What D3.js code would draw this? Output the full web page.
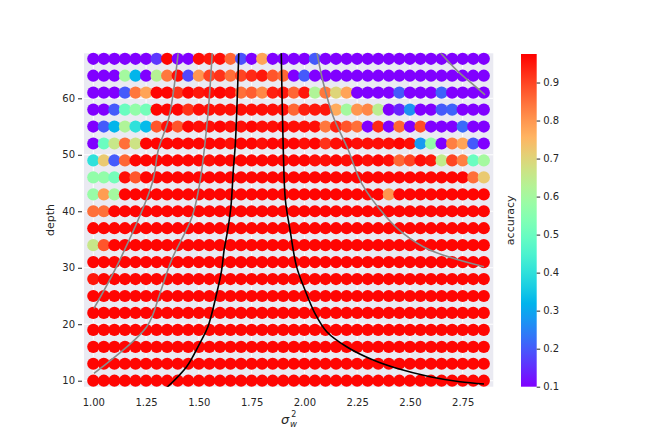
<!DOCTYPE html>
<html><head><meta charset="utf-8">
<script src="https://cdn.jsdelivr.net/npm/d3@7"></script>
<style>body{margin:0;background:#fff;} svg{display:block;font-family:"DejaVu Sans",sans-serif;}</style>
</head><body><svg id="c" width="664" height="443"></svg>
<script>
// ---------- data ----------
const sigmaW2 = [1.00,1.05,1.10,1.15,1.20,1.25,1.30,1.35,1.40,1.45,1.50,1.55,1.60,1.65,1.70,1.75,1.80,1.85,1.90,1.95,
                 2.00,2.05,2.10,2.15,2.20,2.25,2.30,2.35,2.40,2.45,2.50,2.55,2.60,2.65,2.70,2.75,2.80,2.85];
const depths = [67,64,61,58,55,52,49,46,43,40,37,34,31,28,25,22,19,16,13,10];
const r = 0.97;
// accuracy rows, top (depth 67) to bottom (depth 10); 38 values each
const accuracy = [
 [0.10,0.10,0.10,0.10,0.10,0.10,0.16,0.97,0.10,0.10, 0.96,0.95,0.96,0.86,0.19,0.10,0.78,0.10,0.10,0.10, 0.10,0.20,0.10,0.10,0.10,0.10,0.10,0.10,0.10,0.10, 0.10,0.10,0.10,0.10,0.10,0.10,0.10,0.10],
 [0.10,0.10,0.10,0.60,0.32,0.10,0.63,0.84,0.96,0.18, 0.80,0.90,0.92,0.85,0.90,0.93,0.95,0.88,0.86,0.10, 0.20,0.10,0.10,0.10,0.10,0.10,0.10,0.10,0.10,0.10, 0.10,0.10,0.10,0.10,0.10,0.10,0.10,0.10],
 [0.10,0.10,0.10,0.20,0.84,0.78,0.97,0.97,0.92,0.97, 0.95,0.96,0.97,0.96,0.85,0.87,0.82,0.94,0.95,0.86, 0.95,0.62,0.84,0.70,0.78,0.10,0.10,0.10,0.10,0.20, 0.10,0.10,0.10,0.21,0.10,0.10,0.10,0.10],
 [0.10,0.10,0.20,0.50,0.57,0.52,0.97,0.97,0.97,0.92, 0.96,0.96,0.96,0.96,0.96,0.96,0.96,0.96,0.96,0.86, 0.94,0.95,0.95,0.77,0.60,0.80,0.82,0.64,0.10,0.14, 0.27,0.10,0.10,0.20,0.21,0.10,0.10,0.10],
 [0.10,0.20,0.32,0.62,0.40,0.33,0.88,0.96,0.88,0.97, 0.96,0.96,0.97,0.96,0.96,0.97,0.96,0.96,0.97,0.96, 0.96,0.96,0.84,0.94,0.88,0.85,0.10,0.93,0.10,0.86, 0.10,0.89,0.10,0.10,0.10,0.22,0.10,0.10],
 [0.10,0.50,0.66,0.85,0.67,0.97,0.97,0.97,0.97,0.97, 0.97,0.97,0.97,0.96,0.97,0.97,0.96,0.97,0.97,0.97, 0.96,0.97,0.92,0.96,0.97,0.96,0.96,0.96,0.96,0.97, 0.96,0.28,0.57,0.10,0.83,0.78,0.20,0.10],
 [0.40,0.72,0.20,0.86,0.97,0.97,0.97,0.97,0.97,0.97, 0.97,0.96,0.97,0.97,0.97,0.97,0.97,0.97,0.97,0.97, 0.97,0.96,0.96,0.97,0.96,0.97,0.96,0.97,0.96,0.86, 0.90,0.96,0.95,0.65,0.90,0.83,0.50,0.60],
 [0.57,0.57,0.52,0.96,0.88,r,r,r,r,r, r,r,r,r,r,r,r,r,r,r, r,r,r,r,r,r,r,r,r,r, r,r,r,r,r,r,0.85,0.72],
 [0.58,0.79,0.60,r,r,r,r,r,r,r, r,r,r,r,r,r,r,r,r,r, r,r,r,r,r,r,r,r,0.80,r, r,r,r,r,r,r,r,r],
 [0.85,0.85,r,r,r,r,r,r,r,r, r,r,r,r,r,r,r,r,r,r, r,r,r,r,r,r,r,r,r,r, r,r,r,r,r,r,r,r],
 [r,r,r,r,r,r,r,r,r,r, r,r,r,r,r,r,r,r,r,r, r,r,r,r,r,r,r,r,r,r, r,r,r,r,r,r,r,r],
 [0.66,0.88,r,r,r,r,r,r,r,r, r,r,r,r,r,r,r,r,r,r, r,r,r,r,r,r,r,r,r,r, r,r,r,r,r,r,r,r],
 [r,r,r,r,r,r,r,r,r,r, r,r,r,r,r,r,r,r,r,r, r,r,r,r,r,r,r,r,r,r, r,r,r,r,r,r,r,r],
 [0.95,r,r,r,r,r,r,r,r,r, r,r,r,r,r,r,r,r,r,r, r,r,r,r,r,r,r,r,r,r, r,r,r,r,r,r,r,r],
 [r,r,r,r,r,r,r,r,r,r, r,r,r,r,r,r,r,r,r,r, r,r,r,r,r,r,r,r,r,r, r,r,r,r,r,r,r,r],
 [r,r,r,r,r,r,r,r,r,r, r,r,r,r,r,r,r,r,r,r, r,r,r,r,r,r,r,r,r,r, r,r,r,r,r,r,r,r],
 [r,r,r,r,r,r,r,r,r,r, r,r,r,r,r,r,r,r,r,r, r,r,r,r,r,r,r,r,r,r, r,r,r,r,r,r,r,r],
 [r,r,r,r,r,r,r,r,r,r, r,r,r,r,r,r,r,r,r,r, r,r,r,r,r,r,r,r,r,r, r,r,r,r,r,r,r,r],
 [r,r,r,r,r,r,r,r,r,r, r,r,r,r,r,r,r,r,r,r, r,r,r,r,r,r,r,r,r,r, r,r,r,r,r,r,r,r],
 [r,r,r,r,r,r,r,r,r,r, r,r,r,r,r,r,r,r,r,r, r,r,r,r,r,r,r,r,r,r, r,r,r,r,r,r,r,r]
];
// theory curves [sigma_w^2, depth]
const blackLeft  = [[1.340,8.5],[1.442,12.48],[1.505,16.67],[1.543,19.56],[1.585,25.53],[1.608,29.6],[1.620,33.2],[1.637,36.7],[1.652,40.8],[1.664,47.7],[1.673,52.0],[1.690,69]];
const blackRight = [[1.890,69],[1.900,50.85],[1.910,42.0],[1.932,36.7],[1.963,30.2],[2.003,26.06],[2.050,21.93],[2.106,18.68],[2.200,16.02],[2.326,13.66],[2.437,12.2],[2.595,10.71],[2.737,9.82],[2.851,9.42]];
const grayLeftOuter = [[1.003,22.8],[1.126,31.4],[1.279,44.95],[1.308,50.85],[1.359,56.7],[1.405,69]];
const grayLeftInner = [[1.003,11.3],[1.253,19.56],[1.316,25.5],[1.371,31.4],[1.468,39.04],[1.504,44.95],[1.542,56.74],[1.565,69]];
const grayRightMid  = [[2.055,69],[2.090,62.66],[2.137,56.74],[2.208,50.85],[2.271,44.95],[2.387,39.04],[2.468,36.1],[2.595,33.14],[2.851,30.18]];
const grayRightTop  = [[2.622,69],[2.721,65.0],[2.793,62.65],[2.856,60.6]];
const xTicks = [1.00,1.25,1.50,1.75,2.00,2.25,2.50,2.75];
const yTicks = [10,20,30,40,50,60];
const cTicks = [0.1,0.2,0.3,0.4,0.5,0.6,0.7,0.8,0.9];
const vmin = 0.1, vmax = 0.975;

// ---------- drawing ----------
const svg = d3.select("#c");
const L = 84, R = 493.3, T = 53.3, B = 386.7;
const x = d3.scaleLinear().domain([0.956, 2.895]).range([L, R]);
const y = d3.scaleLinear().domain([8.94, 67.97]).range([B, T]);
const norm = d3.scaleLinear().domain([vmin, vmax]).range([0, 1]).clamp(true);
function rainbow(t){
  const rr = Math.min(1, Math.abs(2*t - 0.5)), g = Math.sin(Math.PI*t), b = Math.cos(Math.PI*t/2);
  return d3.rgb(Math.round(255*rr), Math.round(255*Math.max(0,g)), Math.round(255*Math.max(0,b))).toString();
}
const color = v => rainbow(norm(v));

svg.append("rect").attr("x",L).attr("y",T).attr("width",R-L).attr("height",B-T).attr("fill","#EAEAF2");
const grid = svg.append("g");
grid.selectAll("line.gx").data(xTicks).join("line").attr("x1",d=>x(d)).attr("x2",d=>x(d)).attr("y1",T).attr("y2",B)
  .attr("stroke","#fff").attr("stroke-width",1);
grid.selectAll("line.gy").data(yTicks).join("line").attr("class","gy").attr("y1",d=>y(d)).attr("y2",d=>y(d)).attr("x1",L).attr("x2",R)
  .attr("stroke","#fff").attr("stroke-width",1);

const pts = [];
depths.slice().reverse().forEach((dep) => {
  const row = accuracy[depths.indexOf(dep)];
  sigmaW2.forEach((s, j) => pts.push({s, dep, v: row[j]}));
});
svg.append("g").selectAll("circle").data(pts).join("circle")
  .attr("cx", d => x(d.s)).attr("cy", d => y(d.dep)).attr("r", 6.1)
  .attr("fill", d => color(d.v));

svg.append("clipPath").attr("id","clip").append("rect").attr("x",L).attr("y",T).attr("width",R-L).attr("height",B-T);
const line = d3.line().x(d => x(d[0])).y(d => y(d[1])).curve(d3.curveCatmullRom.alpha(0.5));
const lg = svg.append("g").attr("clip-path","url(#clip)");
[[grayLeftOuter,"#8a8a8a"],[grayLeftInner,"#8a8a8a"],[grayRightMid,"#8a8a8a"],[grayRightTop,"#8a8a8a"],[blackLeft,"#000"],[blackRight,"#000"]]
  .forEach(([d,c]) => lg.append("path").datum(d).attr("d", line).attr("fill","none").attr("stroke",c).attr("stroke-width",1.6));

const txt = "#262626";
const xa = svg.append("g").attr("transform",`translate(0,${B})`)
  .call(d3.axisBottom(x).tickValues(xTicks).tickFormat(d3.format(".2f")).tickSize(0).tickPadding(12));
xa.select(".domain").remove();
xa.selectAll("text").attr("fill",txt).attr("font-size",10).attr("font-family","DejaVu Sans, sans-serif");
const ya = svg.append("g").attr("transform",`translate(82,0)`)
  .call(d3.axisLeft(y).tickValues(yTicks).tickFormat(d3.format("d")).tickSize(4).tickPadding(3));
ya.select(".domain").remove();
ya.selectAll("line").attr("stroke",txt);
ya.selectAll("text").attr("fill",txt).attr("font-size",10).attr("font-family","DejaVu Sans, sans-serif");

svg.append("text").attr("transform",`translate(54,${(T+B)/2}) rotate(-90)`).attr("text-anchor","middle")
  .attr("font-size",11).attr("fill",txt).text("depth");
// x label sigma_w^2
const xl = svg.append("g").attr("fill",txt);
xl.append("text").attr("x",281).attr("y",424).attr("font-size",13).attr("font-style","italic").text("σ");
xl.append("text").attr("x",291.3).attr("y",416.5).attr("font-size",8).text("2");
xl.append("text").attr("x",290).attr("y",427).attr("font-size",8.5).attr("font-style","italic").text("w");

// colorbar
const CL = 521, CR = 536.7, CT = 54, CB = 386.7;
const cy = d3.scaleLinear().domain([vmin, vmax]).range([CB, CT]);
const grad = svg.append("defs").append("linearGradient").attr("id","cg").attr("x1",0).attr("y1",1).attr("x2",0).attr("y2",0);
d3.range(0, 1.0001, 0.05).forEach(t => grad.append("stop").attr("offset", t).attr("stop-color", rainbow(t)));
svg.append("rect").attr("x",CL).attr("y",CT).attr("width",CR-CL).attr("height",CB-CT).attr("fill","url(#cg)");
const ca = svg.append("g").attr("transform",`translate(${CR},0)`)
  .call(d3.axisRight(cy).tickValues(cTicks).tickFormat(d3.format(".1f")).tickSize(3.5).tickPadding(3));
ca.select(".domain").remove();
ca.selectAll("line").attr("stroke",txt);
ca.selectAll("text").attr("fill",txt).attr("font-size",10).attr("font-family","DejaVu Sans, sans-serif");
svg.append("text").attr("transform",`translate(514,${(CT+CB)/2}) rotate(-90)`).attr("text-anchor","middle")
  .attr("font-size",11).attr("fill",txt).text("accuracy");
</script></body></html>
